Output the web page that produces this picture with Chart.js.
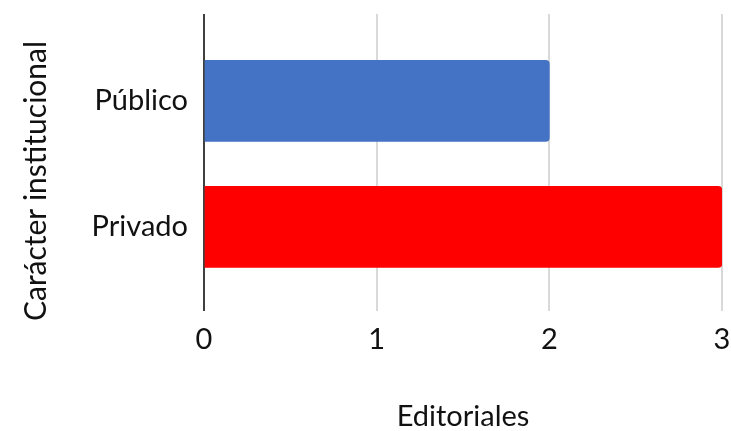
<!DOCTYPE html>
<html><head><meta charset="utf-8">
<script src="https://cdn.jsdelivr.net/npm/chart.js@4"></script>
<style>html,body{margin:0;padding:0;background:#fff;}#wrap{width:731px;height:431px;}</style>
</head><body><div id="wrap"><canvas id="c"></canvas></div>
<script>
const categories = ["Público", "Privado"];
const values = [2, 3];
const barColors = ["#4472C4", "#FF0000"];
const xTitle = "Editoriales";
const yTitle = "Carácter institucional";
const FONT = "Lato, 'Open Sans', sans-serif";
const FS = 29;

const yTitlePlugin = {
  id: 'yTitlePlugin',
  afterDraw(chart) {
    const ctx = chart.ctx;
    ctx.save();
    ctx.translate(36, 181);
    ctx.rotate(-Math.PI / 2);
    ctx.font = '30px ' + FONT;
    ctx.fillStyle = '#111';
    ctx.textAlign = 'center';
    ctx.textBaseline = 'middle';
    ctx.fillText(yTitle, 0, 0);
    ctx.restore();
  }
};

function zeroPad(s) { s.paddingTop = 0; s.paddingBottom = 0; s.paddingLeft = 0; s.paddingRight = 0; }

new Chart(document.getElementById('c'), {
  type: 'bar',
  data: { labels: categories, datasets: [{ data: values, backgroundColor: barColors, borderRadius: 4, borderSkipped: 'start', barThickness: 81 }] },
  plugins: [yTitlePlugin],
  options: {
    indexAxis: 'y', responsive: true, maintainAspectRatio: false, animation: false,
    layout: { padding: { top: 14, right: 9, left: 0, bottom: 0 } },
    plugins: { legend: { display: false }, tooltip: { enabled: false } },
    scales: {
      x: {
        min: 0, max: 3,
        ticks: { stepSize: 1, color: '#111', padding: 11, font: { family: FONT, size: FS } },
        grid: { drawTicks: false, lineWidth: 2, color: (c) => c.tick && c.tick.value === 0 ? '#404040' : '#D9D9D9' },
        border: { display: false },
        title: { display: true, text: xTitle, color: '#111', font: { family: FONT, size: FS, lineHeight: 1.0 }, padding: { top: 0, bottom: 0 } },
        afterFit: (s) => { s.height = 120; zeroPad(s); }
      },
      y: {
        ticks: { color: '#111', padding: 16, font: { family: FONT, size: FS, lineHeight: 1.0 } },
        grid: { display: false, drawTicks: false },
        border: { display: false },
        title: { display: false },
        afterBuildTicks: (s) => { s._startValue = -0.69; s._valueRange = 2.357; },
        afterFit: (s) => { s.width = 204; zeroPad(s); }
      }
    }
  }
});
</script></body></html>
